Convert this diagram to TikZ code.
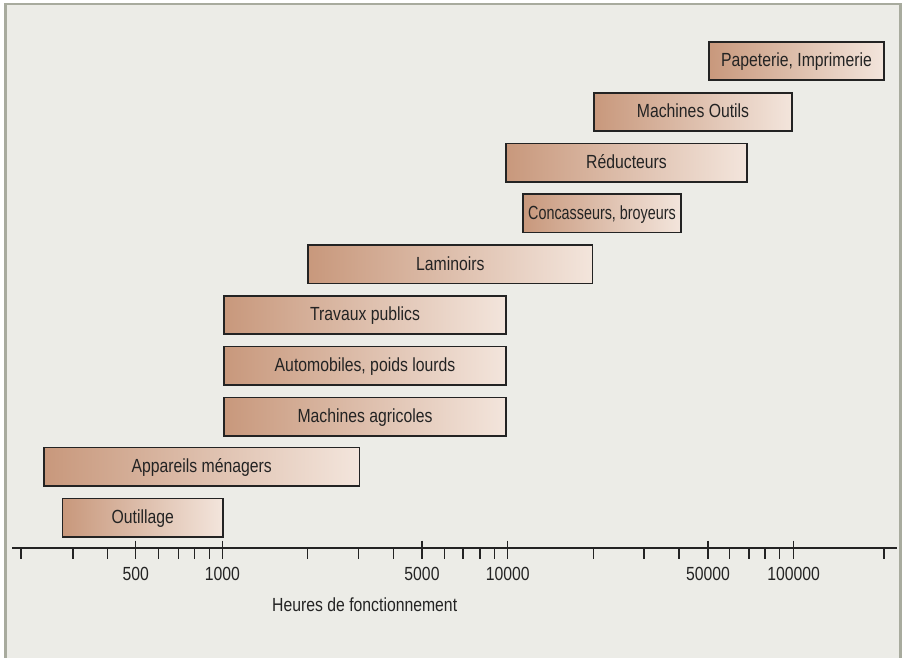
\documentclass[tikz,border=0pt]{standalone}
\usepackage{graphicx}
\usepackage{fontspec}
\setmainfont{Liberation Sans}[FakeStretch=0.83]
\definecolor{framec}{RGB}{168,171,158}
\definecolor{bgc}{RGB}{236,236,231}
\definecolor{barL}{RGB}{200,152,124}
\definecolor{barR}{RGB}{243,229,220}
\definecolor{inkc}{RGB}{35,35,35}
\begin{document}
\begin{tikzpicture}[x=1pt,y=-1pt,
  barbox/.style={draw=inkc, line width=1.6pt, rectangle, inner sep=0pt,
    left color=barL, right color=barR, minimum height=38.4pt,
    text=inkc, font=\fontsize{19}{22}\selectfont, text height=13.6pt, text depth=2pt},
  axisline/.style={draw=inkc, line width=1.5pt},
  ticklab/.style={text=inkc, font=\fontsize{19}{22}\selectfont, anchor=base, inner sep=0pt}
]
\useasboundingbox (0,0) rectangle (905,657);
\clip (0,0) rectangle (905,657);
\fill[white] (0,0) rectangle (905,657);
\draw[draw=framec, fill=bgc, line width=2.5pt] (5.3,4.2) rectangle (900.3,720);

% bars
\node[barbox, minimum width=175.4pt] (pap) at (796.5,61) {Papeterie, Imprimerie};
\node[barbox, minimum width=198.4pt] (mo) at (693,112) {Machines Outils};
\node[barbox, minimum width=241.4pt] (red) at (626.5,162.5) {Réducteurs};
\node[barbox, minimum width=158.4pt] (conc) at (602,213.3) {\scalebox{0.91}[1]{Concasseurs, broyeurs}};
\node[barbox, minimum width=284.4pt] (lam) at (450.3,264.3) {Laminoirs};
\node[barbox, minimum width=282.4pt] (trav) at (365,315) {Travaux publics};
\node[barbox, minimum width=282.4pt] (auto) at (365,365.8) {Automobiles, poids lourds};
\node[barbox, minimum width=282.4pt] (agri) at (365,416.5) {Machines agricoles};
\node[barbox, minimum width=315.4pt] (app) at (201.7,466.5) {Appareils ménagers};
\node[barbox, minimum width=160.4pt] (out) at (142.8,517.8) {Outillage};

% axis
\coordinate (axL) at (12,548);
\coordinate (axR) at (897,548);
\draw[axisline] (axL) -- (axR);
\foreach \t in {21,73,107.5,158.7,178.5,194.7,209.3,307.5,358.7,393.5,444.5,462.9,480,494.5,593.7,644.2,679,729.7,749,765,779.7,884}
  \draw[axisline] (\t,548) -- (\t,558.5);
\foreach \t/\l in {135.7/500,222.3/1000,422/5000,507.7/10000,708/50000,793.7/100000}{
  \draw[axisline] (\t,540.5) -- (\t,558.5);
  \node[ticklab] (lab\l) at (\t,580.7) {\l};
}
\node[ticklab, anchor=base west] (xtitle) at (272,611) {Heures de fonctionnement};
\end{tikzpicture}
\end{document}
